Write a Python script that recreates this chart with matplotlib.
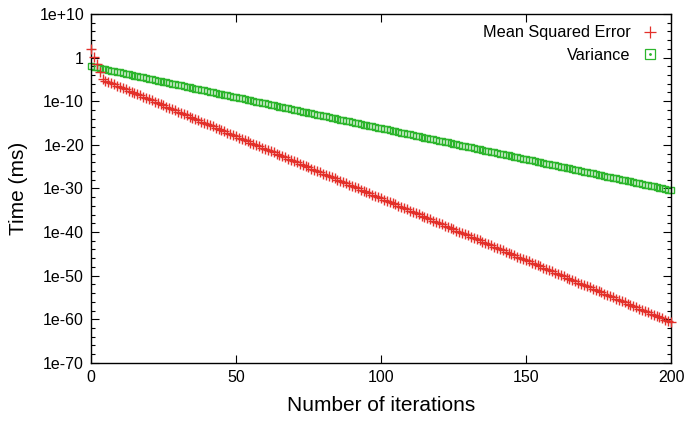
import matplotlib

matplotlib.use("Agg")

import matplotlib.pyplot as plt
import matplotlib.ticker as mticker
import numpy as np
from matplotlib.lines import Line2D

plt.rcParams["font.family"] = ["Liberation Sans", "DejaVu Sans"]

# iteration index 0..200
iterations = np.arange(201)

mse_log10 = [
    1.90, 0.20, -1.50, -3.20,
    -5.00, -5.28, -5.57, -5.85, -6.14,
    -6.42, -6.70, -6.99, -7.27, -7.56,
    -7.84, -8.12, -8.41, -8.69, -8.98,
    -9.26, -9.54, -9.83, -10.11, -10.40,
    -10.68, -10.96, -11.25, -11.53, -11.82,
    -12.10, -12.38, -12.67, -12.95, -13.24,
    -13.52, -13.80, -14.09, -14.37, -14.66,
    -14.94, -15.22, -15.51, -15.79, -16.08,
    -16.36, -16.64, -16.93, -17.21, -17.50,
    -17.78, -18.06, -18.35, -18.63, -18.92,
    -19.20, -19.48, -19.77, -20.05, -20.34,
    -20.62, -20.90, -21.19, -21.47, -21.76,
    -22.04, -22.32, -22.61, -22.89, -23.18,
    -23.46, -23.74, -24.03, -24.31, -24.60,
    -24.88, -25.16, -25.45, -25.73, -26.02,
    -26.30, -26.58, -26.87, -27.15, -27.44,
    -27.72, -28.00, -28.29, -28.57, -28.86,
    -29.14, -29.42, -29.71, -29.99, -30.28,
    -30.56, -30.84, -31.13, -31.41, -31.70,
    -31.98, -32.26, -32.55, -32.83, -33.12,
    -33.40, -33.68, -33.97, -34.25, -34.54,
    -34.82, -35.10, -35.39, -35.67, -35.96,
    -36.24, -36.52, -36.81, -37.09, -37.38,
    -37.66, -37.94, -38.23, -38.51, -38.80,
    -39.08, -39.36, -39.65, -39.93, -40.22,
    -40.50, -40.78, -41.07, -41.35, -41.64,
    -41.92, -42.20, -42.49, -42.77, -43.06,
    -43.34, -43.62, -43.91, -44.19, -44.48,
    -44.76, -45.04, -45.33, -45.61, -45.90,
    -46.18, -46.46, -46.75, -47.03, -47.32,
    -47.60, -47.88, -48.17, -48.45, -48.74,
    -49.02, -49.30, -49.59, -49.87, -50.16,
    -50.44, -50.72, -51.01, -51.29, -51.58,
    -51.86, -52.14, -52.43, -52.71, -53.00,
    -53.28, -53.56, -53.85, -54.13, -54.42,
    -54.70, -54.98, -55.27, -55.55, -55.84,
    -56.12, -56.40, -56.69, -56.97, -57.26,
    -57.54, -57.82, -58.11, -58.39, -58.68,
    -58.96, -59.24, -59.53, -59.81, -60.10,
    -60.38, -60.66,
]

# log10 of variance
var_log10 = [
    -2.00, -2.14, -2.28, -2.43, -2.57,
    -2.71, -2.85, -2.99, -3.14, -3.28,
    -3.42, -3.56, -3.70, -3.85, -3.99,
    -4.13, -4.27, -4.41, -4.56, -4.70,
    -4.84, -4.98, -5.12, -5.27, -5.41,
    -5.55, -5.69, -5.83, -5.98, -6.12,
    -6.26, -6.40, -6.54, -6.69, -6.83,
    -6.97, -7.11, -7.25, -7.40, -7.54,
    -7.68, -7.82, -7.96, -8.11, -8.25,
    -8.39, -8.53, -8.67, -8.82, -8.96,
    -9.10, -9.24, -9.38, -9.53, -9.67,
    -9.81, -9.95, -10.09, -10.24, -10.38,
    -10.52, -10.66, -10.80, -10.95, -11.09,
    -11.23, -11.37, -11.51, -11.66, -11.80,
    -11.94, -12.08, -12.22, -12.37, -12.51,
    -12.65, -12.79, -12.93, -13.08, -13.22,
    -13.36, -13.50, -13.64, -13.79, -13.93,
    -14.07, -14.21, -14.35, -14.50, -14.64,
    -14.78, -14.92, -15.06, -15.21, -15.35,
    -15.49, -15.63, -15.77, -15.92, -16.06,
    -16.20, -16.34, -16.48, -16.63, -16.77,
    -16.91, -17.05, -17.19, -17.34, -17.48,
    -17.62, -17.76, -17.90, -18.05, -18.19,
    -18.33, -18.47, -18.61, -18.76, -18.90,
    -19.04, -19.18, -19.32, -19.47, -19.61,
    -19.75, -19.89, -20.03, -20.18, -20.32,
    -20.46, -20.60, -20.74, -20.89, -21.03,
    -21.17, -21.31, -21.45, -21.60, -21.74,
    -21.88, -22.02, -22.16, -22.31, -22.45,
    -22.59, -22.73, -22.87, -23.02, -23.16,
    -23.30, -23.44, -23.58, -23.73, -23.87,
    -24.01, -24.15, -24.29, -24.44, -24.58,
    -24.72, -24.86, -25.00, -25.15, -25.29,
    -25.43, -25.57, -25.71, -25.86, -26.00,
    -26.14, -26.28, -26.42, -26.57, -26.71,
    -26.85, -26.99, -27.13, -27.28, -27.42,
    -27.56, -27.70, -27.84, -27.99, -28.13,
    -28.27, -28.41, -28.55, -28.70, -28.84,
    -28.98, -29.12, -29.26, -29.41, -29.55,
    -29.69, -29.83, -29.97, -30.12, -30.26,
    -30.40,
]

x_ticks = [0, 50, 100, 150, 200]
y_major_exp = [10, 0, -10, -20, -30, -40, -50, -60, -70]

RED = "#e3302a"
GREEN = "#2cb52c"

fig = plt.figure(figsize=(6.84, 4.22), dpi=100)
ax = fig.add_axes([0.133, 0.140, 0.848, 0.827])

ax.plot(iterations, 10.0 ** np.array(mse_log10), linestyle="none", marker="+",
        markersize=7, markeredgewidth=1.0, color=RED, clip_on=False, zorder=3)
ax.plot(iterations, 10.0 ** np.array(var_log10), linestyle="none", marker="s",
        markersize=5, markeredgewidth=1.0, markerfacecolor="none",
        markeredgecolor=GREEN, clip_on=False, zorder=2)

ax.set_yscale("log")
ax.set_xlim(0, 200)
ax.set_ylim(1e-70, 1e10)

ax.xaxis.set_major_locator(mticker.FixedLocator(x_ticks))
ax.xaxis.set_minor_locator(mticker.NullLocator())
ax.yaxis.set_major_locator(mticker.FixedLocator([10.0 ** e for e in y_major_exp]))
minor_exp = [e for e in range(-70, 11, 2) if e % 10 != 0]
ax.yaxis.set_minor_locator(mticker.FixedLocator([10.0 ** e for e in minor_exp]))


def fmt_y(v, _pos):
    e = int(round(np.log10(v)))
    if e == 0:
        return "1"
    return f"1e+{e}" if e > 0 else f"1e{e}"


ax.yaxis.set_major_formatter(mticker.FuncFormatter(fmt_y))
ax.yaxis.set_minor_formatter(mticker.NullFormatter())

ax.tick_params(which="both", direction="in", top=True, right=True,
               labelsize=11.5, width=0.8, colors="black")
ax.tick_params(which="major", length=6, pad=5)
ax.tick_params(which="minor", length=3)
for sp in ax.spines.values():
    sp.set_linewidth(1.0)

ax.set_xlabel("Number of iterations", fontsize=15, labelpad=8)
ax.set_ylabel("Time (ms)", fontsize=15, labelpad=8)

h_mse = Line2D([], [], linestyle="none", marker="+", markersize=9,
               markeredgewidth=0.9, color=RED)
h_var = Line2D([], [], linestyle="none", marker="s", markersize=7,
               markeredgewidth=0.9, markerfacecolor="none", markeredgecolor=GREEN)
h_dot = Line2D([], [], linestyle="none", marker="o", markersize=1,
               color=GREEN)
ax.legend([h_mse, (h_var, h_dot)], ["Mean Squared Error", "Variance"],
          loc="upper right", frameon=False, markerfirst=False, fontsize=11.7,
          handlelength=1.2, handletextpad=0.6, labelspacing=0.45,
          borderaxespad=0.3, borderpad=0.4)

fig.savefig("out.png", dpi=100)
